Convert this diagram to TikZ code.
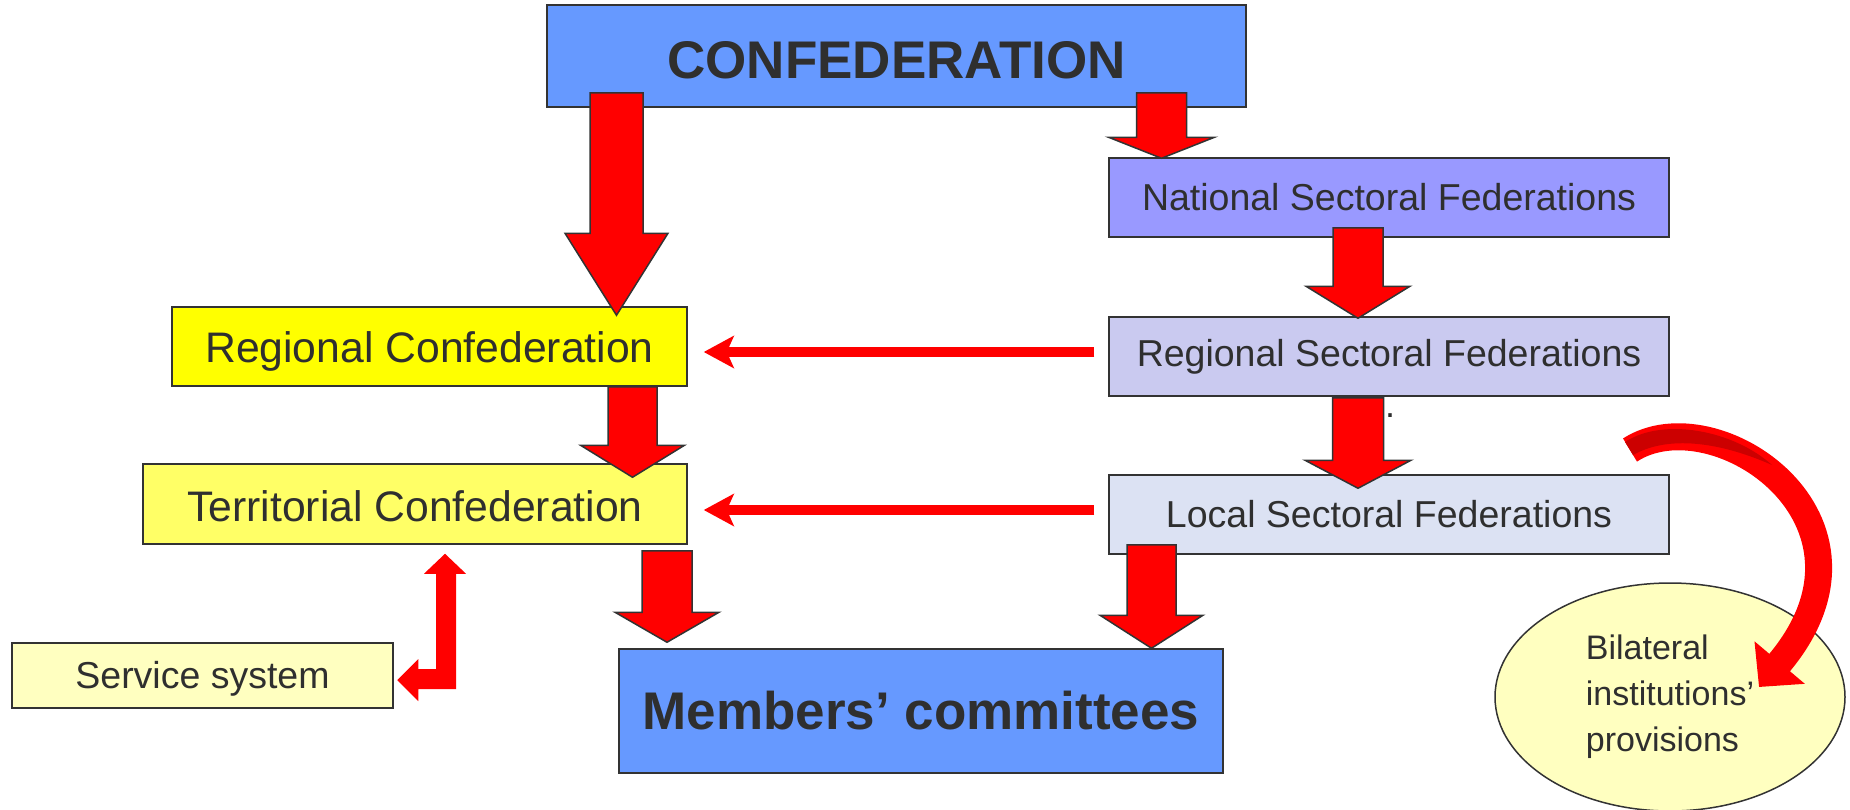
\documentclass[tikz,border=0pt]{standalone}
\usepackage{fontspec}
\setmainfont{Liberation Sans}
\usetikzlibrary{arrows.meta,calc,shapes.geometric}

\definecolor{confblue}{HTML}{6699FF}
\definecolor{natviolet}{HTML}{9999FF}
\definecolor{regviolet}{HTML}{CACAF0}
\definecolor{locblue}{HTML}{DCE2F3}
\definecolor{regyellow}{HTML}{FFFF00}
\definecolor{teryellow}{HTML}{FFFF66}
\definecolor{paleyellow}{HTML}{FFFFC0}
\definecolor{outline}{HTML}{333333}
\definecolor{textgray}{HTML}{2F2F2F}
\definecolor{darkred}{HTML}{CC0000}

% block arrow pointing down: x, top, tip, half shaft, half head, head length
\newcommand{\fatdown}[6]{%
  \filldraw[fatarrow] let \p1=(#2), \p2=(#3) in
    (#1pt-#4pt,\y1) -- (#1pt+#4pt,\y1) -- (#1pt+#4pt,\y2+#6pt)
    -- (#1pt+#5pt,\y2+#6pt) -- (#1pt,\y2) -- (#1pt-#5pt,\y2+#6pt)
    -- (#1pt-#4pt,\y2+#6pt) -- cycle;
}

\begin{document}
\begin{tikzpicture}[x=1pt, y=-1pt,
    box/.style={draw=outline, line width=1.5pt, inner sep=0pt, text=textgray},
    big/.style={font=\fontsize{53}{60}\selectfont\bfseries},
    mid/.style={font=\fontsize{42.7}{50}\selectfont},
    small/.style={font=\fontsize{37.5}{44}\selectfont},
    fatarrow/.style={fill=red, draw=outline, line width=1.5pt, line join=miter},
    thinarrow/.style={draw=red, line width=10pt,
      -{Stealth[length=30pt, width=32pt, inset=7pt]}}]

  \useasboundingbox (0,0) rectangle (1850,809);

  % Top and bottom of the hierarchy
  \node[box, big, fill=confblue, minimum width=699pt, minimum height=102pt,
    text height=45pt] (conf) at (896.5,56) {CONFEDERATION};
  \node[box, big, fill=confblue, minimum width=604pt, minimum height=124pt]
    (memb) at (921,711) {Members’ committees};

  % Sectoral branch
  \node[box, small, fill=natviolet, minimum width=560pt, minimum height=79pt]
    (nsf) at (1389,197.5) {National Sectoral Federations};
  \node[box, small, fill=regviolet, minimum width=560pt, minimum height=79pt]
    (rsf) at (1389,356.5) {Regional Sectoral Federations};
  \node[box, small, fill=locblue, minimum width=560pt, minimum height=79pt]
    (lsf) at (1389,514.5) {Local Sectoral Federations};

  % Territorial branch
  \node[box, mid, fill=regyellow, minimum width=515pt, minimum height=79pt,
    text height=40pt] (regc) at (429.5,346.5) {Regional Confederation};
  \node[box, mid, fill=teryellow, minimum width=544pt, minimum height=80pt,
    text height=35pt] (terr) at (415,504) {Territorial Confederation};
  \node[box, small, fill=paleyellow, minimum width=381pt, minimum height=65pt,
    text height=34pt] (svc) at (202.5,675.5) {Service system};

  \node[box, ellipse, fill=paleyellow, minimum width=350pt, minimum height=228pt,
    align=left, font=\fontsize{34}{46}\selectfont]
    (bil) at (1670,697) {Bilateral\\institutions’\\provisions};

  \node[inner sep=0pt, text=textgray, font=\fontsize{36}{36}\selectfont]
    (dot) at (1390,416) {.};

  % Big red arrows
  \fatdown{616.5}{[yshift=15pt]conf.south}{[yshift=-9pt]regc.north}{26.5}{51.5}{82}
  \fatdown{1161.5}{[yshift=15pt]conf.south}{[yshift=-1pt]nsf.north}{25}{53}{21}
  \fatdown{1358}{[yshift=10pt]nsf.south}{[yshift=-2pt]rsf.north}{25}{52}{32}
  \fatdown{1358}{[yshift=-1pt]rsf.south}{[yshift=-14pt]lsf.north}{25.5}{53}{28}
  \fatdown{632.5}{regc.south}{[yshift=-14pt]terr.north}{24.5}{52}{32}
  \fatdown{667}{[yshift=-6pt]terr.south}{[yshift=6pt]memb.north}{25}{52}{30}
  \fatdown{1151.5}{[yshift=10pt]lsf.south}{memb.north}{24.5}{51.5}{33}

  % Thin arrows from the sectoral to the territorial side
  \coordinate (rsfout) at ([yshift=4.5pt]rsf.west);
  \coordinate (lsfout) at ([yshift=4.5pt]lsf.west);
  \draw[thinarrow, shorten <=14pt, shorten >=16pt] (rsfout) -- (rsfout -| regc.east);
  \draw[thinarrow, shorten <=14pt, shorten >=16pt] (lsfout) -- (lsfout -| terr.east);

  % Two-way arrow to the service system
  \coordinate (svctip) at ([xshift=3.5pt,yshift=-4.5pt]svc.east);
  \coordinate (tertip) at ([xshift=30pt,yshift=-9pt]terr.south);
  \fill[red] let \p1=(svctip), \p2=(tertip) in
    (\x2,\y2) -- (\x2+21pt,\y2-20pt) -- (\x2+11pt,\y2-20pt) -- (\x2+11pt,\y1-9pt)
    -- (\x1+21pt,\y1-9pt) -- (\x1+21pt,\y1-21pt) -- (\x1,\y1)
    -- (\x1+21pt,\y1+21pt) -- (\x1+21pt,\y1+11pt) -- (\x2-9pt,\y1+11pt)
    -- (\x2-9pt,\y2-20pt) -- (\x2-21pt,\y2-20pt) -- cycle;

  % Curved arrow into the bilateral institutions
  \coordinate (bend) at (1630,450);
  \coordinate (biltip) at ([xshift=89pt,yshift=10pt]bil.center);
  \draw[red, line width=27pt, -{Triangle[length=32pt, width=64pt]}]
    (bend) .. controls (1715,395) and (1900,520) .. (biltip);
  % darker inner face near the tail
  \fill[darkred] (1625,442) .. controls (1663,417) and (1733,430) .. (1772,465)
    .. controls (1727,445) and (1672,433) .. (1633,455) -- cycle;
\end{tikzpicture}
\end{document}
